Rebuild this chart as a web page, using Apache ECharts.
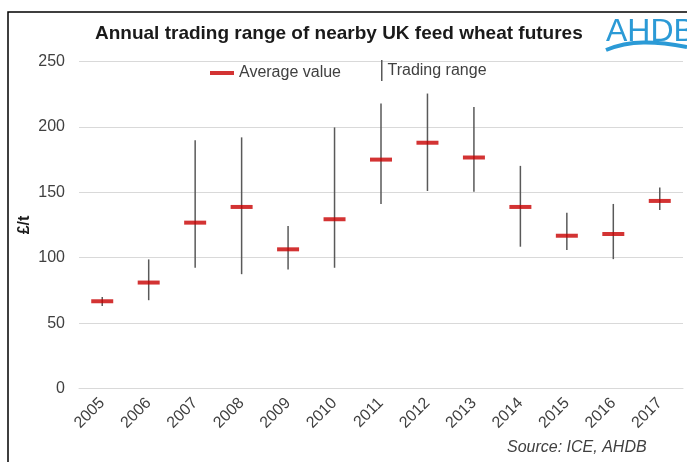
<!DOCTYPE html>
<html>
<head>
<meta charset="utf-8">
<script src="https://cdn.jsdelivr.net/npm/echarts@6/dist/echarts.min.js"></script>
<style>
  html, body { margin: 0; padding: 0; background: #fff; }
  #container1 { width: 687px; height: 462px; }
</style>
</head>
<body>
<div id="container1"></div>
<script>
// data (£/t)
var years = ['2005', '2006', '2007', '2008', '2009', '2010', '2011', '2012', '2013', '2014', '2015', '2016', '2017'];
var avgValue = [66.7, 81, 126.8, 138.8, 106.4, 129.4, 175, 187.9, 176.6, 138.8, 116.8, 118.1, 143.4];
var rangeLow = [63, 67.5, 92.3, 87.4, 91, 92.3, 141.1, 151, 150.5, 108.4, 105.8, 98.9, 136.5];
var rangeHigh = [70, 98.7, 189.7, 192, 124.2, 199.6, 217.8, 225.5, 215.2, 170.2, 134.4, 141.1, 153.6];
var yTicks = [0, 50, 100, 150, 200, 250];

var rangeData = [];
for (var i = 0; i < years.length; i++) {
	rangeData.push([i, rangeLow[i], rangeHigh[i]]);
}

var dom = document.getElementById("container1");
var myChart = echarts.init(dom);
var font = '"Liberation Sans", Arial, sans-serif';

myChart.setOption({
	animation: false,
	textStyle: { fontFamily: font },
	title: {
		text: 'Annual trading range of nearby UK feed wheat futures',
		left: 90,
		top: 19,
		textStyle: { fontSize: 19, fontWeight: 'bold', color: '#1a1a1a', fontFamily: font }
	},
	legend: [{
		data: ['Average value'],
		left: 205,
		top: 60,
		itemWidth: 24,
		itemHeight: 4,
		itemGap: 8,
		icon: 'rect',
		textStyle: { fontSize: 16, color: '#404040', fontFamily: font }
	}, {
		data: ['Trading range'],
		left: 376,
		top: 55,
		itemWidth: 1.5,
		itemHeight: 21,
		itemGap: 6,
		icon: 'rect',
		textStyle: { fontSize: 16, color: '#404040', fontFamily: font }
	}],
	grid: {
		left: 79,
		right: 4,
		top: 61.5,
		bottom: 73.5,
		containLabel: false
	},
	xAxis: {
		type: 'category',
		data: years,
		axisLine: { show: true, lineStyle: { color: '#d9d9d9', width: 1 } },
		axisTick: { show: false },
		axisLabel: {
			rotate: 45,
			fontSize: 16,
			color: '#404040',
			margin: 12,
			fontFamily: font
		}
	},
	yAxis: {
		type: 'value',
		min: yTicks[0],
		max: yTicks[yTicks.length - 1],
		interval: 50,
		name: '£/t',
		nameLocation: 'middle',
		nameGap: 46,
		nameMoveOverlap: false,
		nameTextStyle: { fontSize: 16, fontWeight: 'bold', color: '#1a1a1a', fontFamily: font },
		axisLine: { show: false },
		axisTick: { show: false },
		axisLabel: { fontSize: 16, color: '#404040', margin: 14, fontFamily: font },
		splitLine: { lineStyle: { color: '#d9d9d9', width: 1 } }
	},
	series: [{
		name: 'Trading range',
		type: 'custom',
		itemStyle: { color: '#595959' },
		encode: { x: 0, y: [1, 2] },
		data: rangeData,
		renderItem: function(params, api) {
			var lo = api.coord([api.value(0), api.value(1)]);
			var hi = api.coord([api.value(0), api.value(2)]);
			return {
				type: 'line',
				shape: { x1: lo[0], y1: lo[1], x2: hi[0], y2: hi[1] },
				style: { stroke: '#595959', lineWidth: 1.5 }
			};
		},
		z: 2
	}, {
		name: 'Average value',
		type: 'scatter',
		symbol: 'rect',
		symbolSize: [22, 4],
		itemStyle: { color: '#c80000' },
		data: avgValue,
		z: 3
	}],
	graphic: [{
		type: 'polyline',
		shape: { points: [[8, 462], [8, 12], [687, 12]] },
		style: { stroke: '#000', lineWidth: 1.5, fill: null }
	}, {
		type: 'text',
		x: 606,
		y: 16,
		style: { text: 'AHDB', fontSize: 32, fill: '#2b9ad6', fontFamily: font }
	}, {
		type: 'bezierCurve',
		shape: { x1: 606, y1: 50, cpx1: 630, cpy1: 40, cpx2: 655, cpy2: 41, x2: 687, y2: 47 },
		style: { stroke: '#2b9ad6', lineWidth: 4, fill: null }
	}, {
		type: 'text',
		x: 507,
		y: 440,
		style: { text: 'Source: ICE, AHDB', fontSize: 16, fontStyle: 'italic', fill: '#404040', fontFamily: font }
	}]
});
</script>
</body>
</html>
